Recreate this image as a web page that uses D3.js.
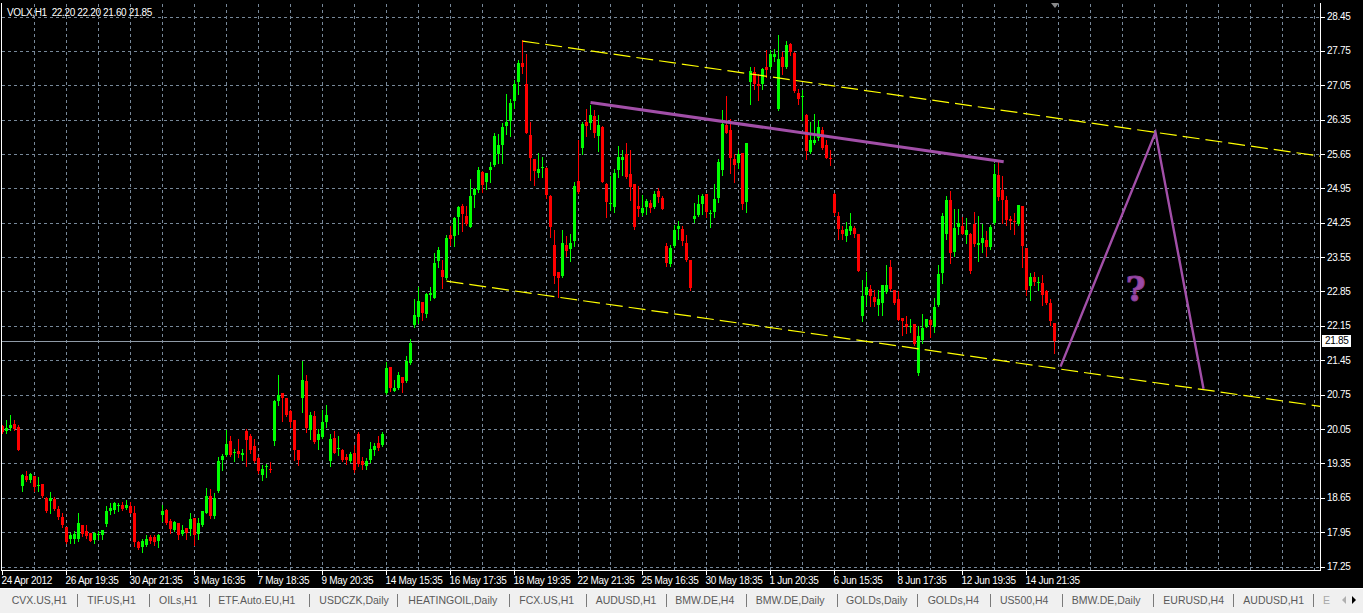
<!DOCTYPE html>
<html><head><meta charset="utf-8">
<script src="https://cdn.jsdelivr.net/npm/d3@7"></script>
<style>
html,body{margin:0;padding:0;background:#000;overflow:hidden}
svg{display:block}
text{font-family:"Liberation Sans",Arial,sans-serif}
</style></head><body>
<svg id="c" width="1363" height="613"></svg>
<script>
// ---------- data ----------
const symbolTitle = "VOLX,H1\u00a0\u00a022.20 22.20 21.60 21.85";
const timeLabels = ["24 Apr 2012","26 Apr 19:35","30 Apr 21:35","3 May 16:35","7 May 18:35","9 May 20:35","14 May 15:35","16 May 17:35","18 May 19:35","22 May 21:35","25 May 16:35","30 May 18:35","1 Jun 20:35","6 Jun 15:35","8 Jun 17:35","12 Jun 19:35","14 Jun 21:35"];
const timeLabelStep = 16;   // bars between time labels
const gridStep = 8;         // bars between vertical grid lines
const priceTicks = [28.45,27.75,27.05,26.35,25.65,24.95,24.25,23.55,22.85,22.15,21.45,20.75,20.05,19.35,18.65,17.95,17.25];
const bidPrice = 21.85;
const tabs = ["CVX.US,H1","TIF.US,H1","OILs,H1","ETF.Auto.EU,H1","USDCZK,Daily","HEATINGOIL,Daily","FCX.US,H1","AUDUSD,H1","BMW.DE,H4","BMW.DE,Daily","GOLDs,Daily","GOLDs,H4","US500,H4","BMW.DE,Daily","EURUSD,H4","AUDUSD,H1"];

const open = [20.12,20.01,20.07,20.16,20.10,18.88,19.10,19.02,19.10,18.89,18.92,18.65,18.58,18.63,18.42,18.25,18.05,17.80,17.82,17.80,
18.10,17.98,17.93,17.78,17.89,17.90,18.12,18.37,18.41,18.48,18.51,18.45,18.48,18.33,17.74,17.64,17.68,17.85,17.85,17.77,
18.29,18.41,18.17,17.99,18.14,17.92,18.04,18.02,18.24,17.92,18.09,18.34,18.69,18.27,18.78,19.42,19.53,19.80,19.58,19.61,
19.53,20.00,19.90,19.70,19.45,19.12,19.28,19.24,19.81,20.63,20.78,20.69,20.41,20.24,19.63,20.68,21.03,20.03,20.31,19.83,
19.88,20.19,19.39,19.87,19.64,19.63,19.49,19.39,19.57,19.95,19.40,19.29,19.41,19.62,19.76,19.73,20.78,21.31,20.83,20.89,
21.10,21.02,21.40,22.17,22.34,22.63,22.39,22.77,22.72,23.48,23.29,23.12,24.00,23.98,24.36,24.59,24.38,24.17,24.81,24.91,
25.29,25.08,25.32,25.42,25.64,25.83,26.21,26.32,26.73,27.11,27.50,27.07,26.03,25.54,25.27,25.38,25.37,24.80,23.79,23.24,
23.16,23.79,23.71,23.88,25.10,25.78,26.30,26.28,26.42,26.01,26.19,25.03,24.65,24.57,25.32,25.52,25.64,25.24,25.03,24.59,
24.45,24.57,24.66,24.57,24.89,24.76,23.77,23.40,23.78,24.12,24.13,23.83,23.49,24.32,24.40,24.63,24.83,24.44,24.47,24.76,
25.33,26.24,26.13,25.54,25.47,25.67,24.68,27.11,27.32,27.08,27.07,27.42,27.42,27.62,26.56,27.62,27.42,27.88,27.71,26.89,
26.83,26.44,25.69,25.88,25.98,26.13,25.83,25.57,24.83,24.39,24.11,23.98,24.08,24.15,24.02,22.36,22.78,22.90,22.73,22.58,
22.62,22.83,23.35,22.89,22.70,22.32,22.19,22.13,22.18,21.19,21.86,22.13,22.26,22.13,22.58,23.23,24.03,24.72,23.66,24.17,
24.18,24.00,24.03,24.22,23.79,23.83,23.89,23.76,24.24,25.22,24.91,24.72,24.32,24.29,24.22,24.59,23.73,22.96,23.14,23.03,
23.03,22.85,22.62,22.20];
const high = [20.14,20.24,20.34,20.24,20.14,19.14,19.20,19.15,19.10,19.07,18.94,18.66,18.77,18.67,18.49,18.34,18.05,17.93,17.97,18.34,
18.10,18.10,17.94,17.95,17.97,18.00,18.48,18.54,18.56,18.54,18.56,18.60,18.56,18.48,17.76,17.80,17.90,17.90,17.89,17.92,
18.50,18.42,18.21,18.17,18.14,18.10,18.04,18.34,18.24,18.24,18.39,18.84,18.82,18.75,19.48,19.55,20.02,19.90,19.65,19.85,
19.65,20.05,19.95,19.85,19.48,19.31,19.34,19.37,20.64,21.15,20.78,20.69,20.44,20.24,19.63,21.44,21.15,20.39,20.42,20.05,
20.44,20.54,19.95,20.00,19.90,19.64,19.55,19.58,19.73,19.99,19.49,19.46,19.78,19.76,19.90,19.99,21.42,21.32,21.05,21.21,
21.10,21.53,21.88,22.70,22.95,22.64,22.81,22.95,23.63,23.76,23.49,24.00,24.19,24.36,24.59,24.63,24.59,25.14,24.96,25.39,
25.31,25.27,25.48,26.08,26.06,26.29,26.88,26.78,27.16,27.57,27.97,27.68,26.30,25.55,25.68,25.58,25.39,24.81,24.10,23.24,
24.10,23.98,24.02,25.08,25.93,26.30,26.57,26.64,26.54,26.45,26.21,25.06,25.20,25.34,25.81,25.74,25.88,25.74,25.03,24.99,
24.81,24.74,24.71,24.90,24.96,24.80,23.83,23.79,24.20,24.28,24.18,24.00,23.50,24.66,24.81,24.84,24.83,24.51,25.03,25.54,
26.54,26.84,26.37,25.64,25.74,25.68,25.88,27.42,27.43,27.28,27.41,27.77,27.76,27.78,28.08,27.72,27.96,27.91,27.72,26.98,
26.95,26.47,26.30,26.47,26.35,26.20,25.93,25.74,24.85,24.47,24.18,24.27,24.44,24.18,24.03,23.08,23.24,22.98,22.89,22.88,
22.98,23.39,23.49,22.89,22.85,22.32,22.35,22.28,22.19,22.15,22.39,22.30,22.28,22.71,23.39,24.45,24.79,24.89,24.54,24.54,
24.36,24.34,24.05,24.47,24.38,24.22,24.08,24.20,25.44,25.49,25.20,24.79,24.38,24.44,24.61,24.59,23.73,23.23,23.25,23.14,
23.18,22.89,22.69,22.20];
const low = [19.97,19.97,20.03,20.03,19.62,18.78,19.00,18.98,18.78,18.78,18.67,18.36,18.34,18.40,18.21,18.06,17.73,17.73,17.73,17.77,
17.88,17.83,17.76,17.72,17.80,17.81,18.07,18.31,18.33,18.37,18.41,18.42,18.33,17.66,17.60,17.54,17.66,17.73,17.68,17.65,
18.17,18.12,17.93,17.97,17.80,17.89,17.81,17.90,17.68,17.82,18.07,18.33,18.24,18.23,18.77,19.21,19.51,19.51,19.39,19.49,
19.42,19.29,19.57,19.37,19.15,19.02,19.07,19.17,19.73,20.53,20.22,20.31,20.09,19.42,19.31,20.39,19.98,19.85,19.76,19.65,
19.87,20.09,19.29,19.56,19.53,19.40,19.34,19.38,19.17,19.29,19.24,19.24,19.37,19.53,19.63,19.71,20.77,20.83,20.82,20.87,
20.81,21.00,21.38,22.13,22.20,22.27,22.34,22.68,22.71,23.34,22.93,23.11,23.80,23.78,24.02,24.08,24.21,24.16,24.57,24.88,
24.88,24.93,25.08,25.41,25.47,25.47,26.05,26.01,26.59,26.88,27.30,26.07,25.12,25.01,25.18,25.18,24.76,23.96,23.03,22.73,
23.15,23.57,23.48,23.78,24.86,25.66,26.01,26.15,25.99,25.71,25.07,24.37,24.51,24.47,25.18,25.22,25.17,24.72,24.12,24.39,
24.40,24.43,24.47,24.55,24.68,24.52,23.37,23.37,23.76,23.92,23.79,23.47,22.88,24.27,24.39,24.43,24.37,24.17,24.37,24.68,
25.23,26.07,25.26,25.08,25.37,24.53,24.47,26.67,26.98,26.75,26.97,27.22,27.39,27.55,26.55,27.28,27.41,27.66,26.92,26.67,
26.34,25.54,25.67,25.86,25.93,25.76,25.56,25.42,24.40,23.91,23.91,23.88,24.03,23.95,23.26,22.25,22.58,22.56,22.56,22.37,
22.37,22.82,22.89,22.59,22.26,21.97,22.01,22.03,21.77,21.14,21.80,22.12,21.93,22.03,22.56,23.03,23.91,23.44,23.57,24.03,
24.02,23.83,23.23,23.77,23.47,23.66,23.57,23.71,24.23,24.72,24.25,24.20,24.13,24.03,24.20,23.34,22.78,22.68,22.98,22.88,
22.58,22.59,22.17,21.60];
const close = [19.98,20.08,20.14,20.05,19.63,19.12,19.02,19.14,18.86,18.90,18.68,18.37,18.65,18.43,18.25,18.09,17.74,17.89,17.92,18.14,
17.92,17.88,17.77,17.93,17.91,18.00,18.37,18.45,18.54,18.50,18.43,18.50,18.34,17.74,17.63,17.76,17.82,17.77,17.74,17.90,
18.39,18.14,18.02,18.15,17.89,18.00,17.93,18.21,17.90,18.14,18.39,18.69,18.27,18.65,19.40,19.51,19.75,19.53,19.59,19.54,
19.57,19.83,19.63,19.39,19.19,19.24,19.30,19.22,20.63,20.75,20.68,20.33,20.19,19.63,19.42,21.05,20.08,20.34,19.78,19.95,
20.19,20.34,19.85,19.57,19.66,19.42,19.42,19.55,19.22,19.34,19.31,19.40,19.65,19.70,19.66,19.95,21.30,20.88,20.89,21.15,
20.98,21.44,21.81,22.37,22.66,22.41,22.79,22.81,23.44,23.69,23.14,23.93,23.91,24.34,24.57,24.42,24.22,24.79,24.93,25.33,
25.01,25.27,25.39,26.02,25.83,26.19,26.30,26.69,27.08,27.51,27.42,26.08,25.57,25.31,25.34,25.39,24.81,24.17,23.16,23.13,
23.83,23.68,23.84,24.99,24.88,26.27,26.21,26.44,26.08,26.24,25.08,24.68,24.66,25.27,25.59,25.59,25.18,24.98,24.17,24.52,
24.55,24.69,24.55,24.83,24.78,24.53,23.44,23.73,24.10,24.18,23.87,23.49,22.93,24.38,24.64,24.79,24.47,24.45,24.73,25.49,
26.27,26.08,25.57,25.42,25.64,24.64,25.88,27.34,27.07,27.03,27.39,27.37,27.68,27.68,27.59,27.43,27.86,27.72,26.93,26.76,
26.84,25.72,25.93,25.94,26.19,25.78,25.57,25.54,24.44,24.12,24.02,24.13,24.18,24.03,23.27,22.75,22.95,22.75,22.63,22.70,
22.98,22.98,22.90,22.62,22.27,22.24,22.12,22.14,21.78,21.95,22.11,22.28,22.16,22.54,23.21,24.39,24.71,23.63,24.15,24.24,
24.03,24.10,23.27,23.81,23.84,23.93,23.76,24.17,25.24,24.78,24.71,24.30,24.28,24.27,24.61,23.77,22.88,23.15,23.05,23.05,
22.78,22.62,22.24,21.85];

// drawn objects, as [bar index, price]
const upperChannel = [[130, 27.95], [288.25, 26.09]];
const lowerChannel = [[111, 23.06], [309, 20.75]];
const necklineTrend = [[147, 26.70], [250.3, 25.49]];
const forecastPath = [[264.5, 21.32], [288.25, 26.09], [300.25, 20.87]];
const questionMark = [[283.3, 22.66]];

// ---------- layout ----------
const W = 1363, H = 613;
const plot = {left: 1, right: 1320, top: 3, bottom: 570};
const lastIndex = (plot.right - 2.5) / 4;   // bars that fit in the plot
const svg = d3.select("#c");
const x = d3.scaleLinear().domain([0, 1]).range([2.5, 6.5]);
const y = d3.scaleLinear().domain([17.25, 28.45]).range([566.5, 16.5]);
const GRID = "#778899";

svg.append("rect").attr("width", W).attr("height", H).attr("fill", "#000");

svg.append("defs").append("clipPath").attr("id", "plotclip")
  .append("rect").attr("x", plot.left + 0.5).attr("y", plot.top + 0.5)
  .attr("width", plot.right - plot.left - 0.5).attr("height", plot.bottom - plot.top - 0.5);

const g = svg.append("g").attr("shape-rendering", "crispEdges");

// horizontal grid
g.selectAll("line.hg").data(priceTicks).join("line")
  .attr("x1", plot.left + 1).attr("x2", plot.right)
  .attr("y1", d => Math.round(y(d)) + 0.5).attr("y2", d => Math.round(y(d)) + 0.5)
  .attr("stroke", GRID).attr("stroke-dasharray", "3,3");

// vertical grid
const vIdx = d3.range(gridStep, lastIndex, gridStep);
g.selectAll("line.vg").data(vIdx).join("line")
  .attr("x1", d => Math.floor(x(d)) + 0.5).attr("x2", d => Math.floor(x(d)) + 0.5)
  .attr("y1", plot.top + 1).attr("y2", plot.bottom)
  .attr("stroke", GRID).attr("stroke-dasharray", "3,3");

// bid line
g.append("line").attr("x1", plot.left + 1).attr("x2", plot.right)
  .attr("y1", Math.round(y(bidPrice)) + 0.5).attr("y2", Math.round(y(bidPrice)) + 0.5)
  .attr("stroke", "#8f9aa6");

// candles
const bars = d3.range(open.length).map(i => ({i, o: open[i], h: high[i], l: low[i], c: close[i]}));
const cg = g.append("g").attr("clip-path", "url(#plotclip)");
const col = d => d.c >= d.o ? "#00ff00" : "#ff0000";
cg.selectAll("rect.w").data(bars).join("rect")
  .attr("x", d => Math.floor(x(d.i))).attr("width", 1)
  .attr("y", d => Math.round(y(d.h)))
  .attr("height", d => Math.max(1, Math.round(y(d.l)) - Math.round(y(d.h)) + 1))
  .attr("fill", col);
cg.selectAll("rect.b").data(bars).join("rect")
  .attr("x", d => Math.floor(x(d.i)) - 1).attr("width", 3)
  .attr("y", d => Math.round(y(Math.max(d.o, d.c))))
  .attr("height", d => Math.max(1, Math.round(y(Math.min(d.o, d.c))) - Math.round(y(Math.max(d.o, d.c)))))
  .attr("fill", col);

// objects
const og = svg.append("g").attr("clip-path", "url(#plotclip)");
function extendRay(pts) {
  const [a, b] = pts;
  const s = (b[1] - a[1]) / (b[0] - a[0]);
  return [a, [lastIndex + 1, a[1] + s * (lastIndex + 1 - a[0])]];
}
const line = d3.line().x(d => x(d[0])).y(d => y(d[1]));
[upperChannel, lowerChannel].forEach(p => {
  og.append("path").attr("d", line(extendRay(p))).attr("fill", "none")
    .attr("stroke", "#ffff00").attr("stroke-width", 1.2).attr("stroke-dasharray", "17,6");
});
og.append("path").attr("d", line(necklineTrend)).attr("fill", "none")
  .attr("stroke", "#a24fa8").attr("stroke-width", 3);
og.append("path").attr("d", line(forecastPath)).attr("fill", "none")
  .attr("stroke", "#a24fa8").attr("stroke-width", 2.4).attr("stroke-linejoin", "miter");
og.selectAll("text.q").data(questionMark).join("text")
  .attr("x", d => x(d[0])).attr("y", d => y(d[1]))
  .attr("text-anchor", "middle")
  .style("font-family", "'DejaVu Serif','Liberation Serif',serif")
  .style("font-weight", "bold").style("font-size", "34px")
  .attr("fill", "#9c4aa6").attr("stroke", "#8a3f9a").attr("stroke-width", 1).text("?");

// frame
const fr = svg.append("g").attr("shape-rendering", "crispEdges").attr("stroke", "#fff");
fr.append("line").attr("x1", plot.left + 0.5).attr("x2", plot.left + 0.5).attr("y1", plot.top).attr("y2", plot.bottom + 1);
fr.append("line").attr("x1", plot.right + 0.5).attr("x2", plot.right + 0.5).attr("y1", plot.top).attr("y2", plot.bottom + 1);
fr.append("line").attr("x1", plot.left).attr("x2", plot.right + 1).attr("y1", plot.bottom + 0.5).attr("y2", plot.bottom + 0.5);

// right axis
const ax = svg.append("g");
ax.selectAll("line.t").data(priceTicks).join("line")
  .attr("shape-rendering", "crispEdges")
  .attr("x1", plot.right + 1).attr("x2", plot.right + 5)
  .attr("y1", d => Math.round(y(d)) + 0.5).attr("y2", d => Math.round(y(d)) + 0.5)
  .attr("stroke", "#fff");
ax.selectAll("text.t").data(priceTicks).join("text")
  .attr("x", plot.right + 7).attr("y", d => y(d) + 3.6)
  .attr("fill", "#fff").style("font-size", "10px").style("letter-spacing", "-0.3px")
  .text(d => d.toFixed(2));
// bid label
ax.append("rect").attr("x", plot.right + 2).attr("y", Math.round(y(bidPrice)) - 6)
  .attr("width", 29).attr("height", 12).attr("fill", "#fff");
ax.append("text").attr("x", plot.right + 5).attr("y", y(bidPrice) + 3.8)
  .attr("fill", "#000").style("font-size", "10px").style("letter-spacing", "-0.3px")
  .text(bidPrice.toFixed(2));

// bottom axis
const tIdx = timeLabels.map((t, k) => k * timeLabelStep);
ax.selectAll("line.b").data(tIdx).join("line")
  .attr("shape-rendering", "crispEdges")
  .attr("x1", d => Math.floor(x(d)) + 0.5).attr("x2", d => Math.floor(x(d)) + 0.5)
  .attr("y1", plot.bottom + 1).attr("y2", plot.bottom + 5).attr("stroke", "#fff");
ax.selectAll("text.b").data(timeLabels).join("text")
  .attr("x", (d, k) => Math.floor(x(k * timeLabelStep)) - 0.5).attr("y", 584)
  .attr("fill", "#fff").style("font-size", "10px").style("letter-spacing", "-0.3px")
  .text(d => d);

// title
svg.append("text").attr("x", 7).attr("y", 15.5).attr("fill", "#fff")
  .style("font-size", "10px").style("letter-spacing", "-0.35px")
  .text(symbolTitle);

// chart-shift marker
svg.append("path").attr("d", `M${x(263)-3.5},3 L${x(263)+4.5},3 L${x(263)+0.5},8 Z`).attr("fill", "#8a8a8a");

// tab bar
const tb = svg.append("g");
tb.append("rect").attr("x", 0).attr("y", 588).attr("width", W).attr("height", H - 588).attr("fill", "#f0f0f0");
tb.append("line").attr("x1", 0).attr("x2", W).attr("y1", 588.5).attr("y2", 588.5).attr("stroke", "#fff").attr("shape-rendering", "crispEdges");
const tabStart = [11.7, 87.3, 159, 218.3, 319.3, 408.3, 519.3, 595.7, 675.3, 755.7, 846, 927.7, 1000, 1071.7, 1163.3, 1243.3];
const sepX = [77.3, 149.3, 209.3, 309.3, 397.3, 509.3, 585.7, 665.7, 745.7, 837.3, 917.3, 990, 1061.7, 1153.3, 1233.3, 1313.3];
tb.selectAll("text.tab").data(tabs).join("text")
  .attr("x", (d, k) => tabStart[k]).attr("y", 604)
  .attr("fill", "#5a5a5a").style("font-size", "10.5px").text(d => d);
tb.selectAll("line.sep").data(sepX).join("line")
  .attr("shape-rendering", "crispEdges")
  .attr("x1", d => Math.round(d) + 0.5).attr("x2", d => Math.round(d) + 0.5)
  .attr("y1", 594).attr("y2", 607).attr("stroke", "#7a7a7a");
tb.append("text").attr("x", 1323).attr("y", 604).attr("fill", "#a8a8a8").style("font-size", "10.5px").text("E");
tb.append("path").attr("d", "M1346,596 L1346,604 L1342,600 Z").attr("fill", "#b0b0b0");
tb.append("path").attr("d", "M1352,596 L1352,604 L1356,600 Z").attr("fill", "#000");
</script>
</body></html>
